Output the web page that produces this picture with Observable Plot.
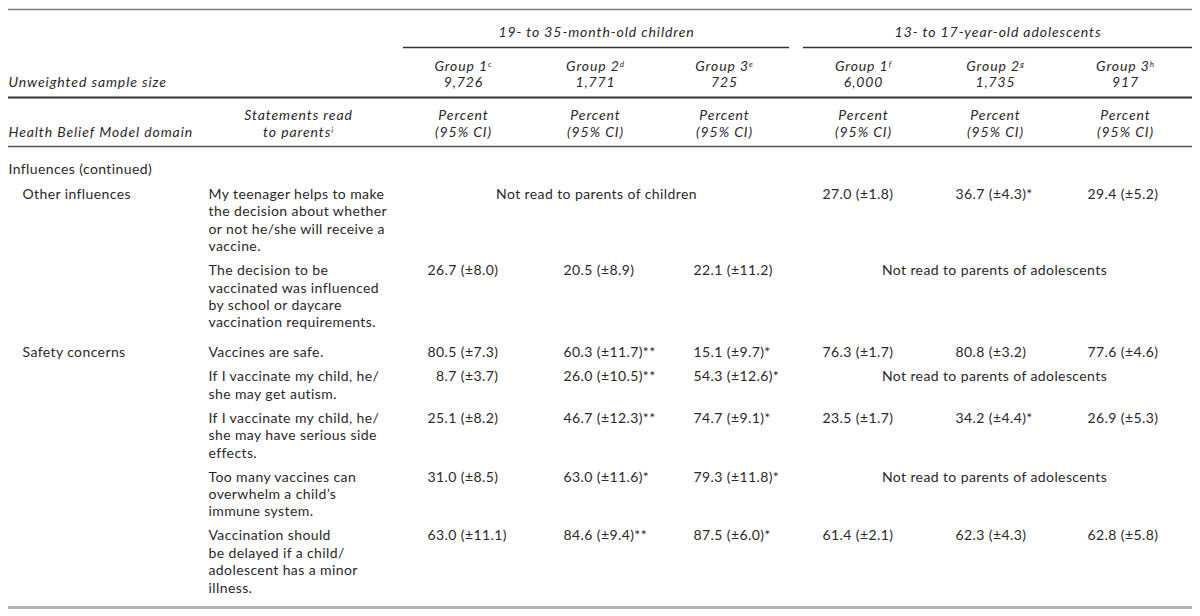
<!DOCTYPE html>
<html>
<head>
<meta charset="utf-8">
<script src="https://cdn.jsdelivr.net/npm/d3@7"></script>
<script src="https://cdn.jsdelivr.net/npm/@observablehq/plot@0.6"></script>
<style>
  html, body { margin: 0; padding: 0; background: #ffffff; }
  #chart svg { display: block; }
</style>
</head>
<body>
<div id="chart"></div>
<script>
// ---------- DATA ----------
const ageGroups = ["19- to 35-month-old children", "13- to 17-year-old adolescents"];
const groupNames = ["Group 1", "Group 2", "Group 3", "Group 1", "Group 2", "Group 3"];
const groupNotes = ["c", "d", "e", "f", "g", "h"];
const groupAge = [0, 0, 0, 1, 1, 1];
const sampleSizes = ["9,726", "1,771", "725", "6,000", "1,735", "917"];
const sampleLabel = "Unweighted sample size";
const domainHeader = "Health Belief Model domain";
const statementHeader = ["Statements read", "to parents^i"];
const valueHeader = ["Percent", "(95% CI)"];
const sectionTitle = "Influences (continued)";
const domainNames = ["Other influences", "Safety concerns"];
const rowDomain = [0, 0, 1, 1, 1, 1, 1];
const statements = [
  ["My teenager helps to make", "the decision about whether", "or not he/she will receive a", "vaccine."],
  ["The decision to be", "vaccinated was influenced", "by school or daycare", "vaccination requirements."],
  ["Vaccines are safe."],
  ["If I vaccinate my child, he/", "she may get autism."],
  ["If I vaccinate my child, he/", "she may have serious side", "effects."],
  ["Too many vaccines can", "overwhelm a child\u2019s", "immune system."],
  ["Vaccination should", "be delayed if a child/", "adolescent has a minor", "illness."]
];
const percents = [
  [null, null, null, 27.0, 36.7, 29.4],
  [26.7, 20.5, 22.1, null, null, null],
  [80.5, 60.3, 15.1, 76.3, 80.8, 77.6],
  [8.7, 26.0, 54.3, null, null, null],
  [25.1, 46.7, 74.7, 23.5, 34.2, 26.9],
  [31.0, 63.0, 79.3, null, null, null],
  [63.0, 84.6, 87.5, 61.4, 62.3, 62.8]
];
const ciHalfWidths = [
  [null, null, null, 1.8, 4.3, 5.2],
  [8.0, 8.9, 11.2, null, null, null],
  [7.3, 11.7, 9.7, 1.7, 3.2, 4.6],
  [3.7, 10.5, 12.6, null, null, null],
  [8.2, 12.3, 9.1, 1.7, 4.4, 5.3],
  [8.5, 11.6, 11.8, null, null, null],
  [11.1, 9.4, 6.0, 2.1, 4.3, 5.8]
];
const significance = [
  ["", "", "", "", "*", ""],
  ["", "", "", "", "", ""],
  ["", "**", "*", "", "", ""],
  ["", "**", "*", "", "", ""],
  ["", "**", "*", "", "*", ""],
  ["", "*", "*", "", "", ""],
  ["", "**", "*", "", "", ""]
];
const notReadTexts = ["Not read to parents of children", "Not read to parents of adolescents"];

// ---------- LAYOUT ----------
const W = 1200, H = 616;
const FONT = 14;
const FAMILY = "Lato, 'Open Sans', sans-serif";
const INK = "#2b2829";
const L = {
  left: 8, right: 1192,
  yTop: 9, yAge: 32, yAgeRule: 47, yGroup: 66, ySize: 82, yRule2: 97,
  yPct: 115, yCI: 132, yRule3: 146, ySection: 169,
  yBody: 194, lineH: 17.4, rowGap: 6.6, domainGap: 6, yBottom: 607,
  xDomain: 22, xStmt: 208, xStmtHead: 298,
  colCenter: [463, 595, 724, 863, 995, 1125],
  colValue: [427, 563, 693, 822, 955, 1087],
  ageSpan: [[403, 789], [803, 1192]],
  notReadX: [596, 994]
};

// ---------- BUILD CELLS ----------
const cells = [];
const add = (x, y, text, anchor = "start", italic = false) =>
  cells.push({x, y, text, anchor, italic});

ageGroups.forEach((g, i) => add((L.ageSpan[i][0] + L.ageSpan[i][1]) / 2, L.yAge, g, "middle", true));
groupNames.forEach((g, i) => {
  add(L.colCenter[i], L.yGroup, `${g}^${groupNotes[i]}`, "middle", true);
  add(L.colCenter[i], L.ySize, sampleSizes[i], "middle", true);
  add(L.colCenter[i], L.yPct, valueHeader[0], "middle", true);
  add(L.colCenter[i], L.yCI, valueHeader[1], "middle", true);
});
add(L.left, L.ySize, sampleLabel, "start", true);
add(L.left, L.yCI, domainHeader, "start", true);
add(L.xStmtHead, L.yPct, statementHeader[0], "middle", true);
add(L.xStmtHead, L.yCI, statementHeader[1], "middle", true);
add(L.left, L.ySection, sectionTitle, "start", false);

const fmt = (v, ci, sig) =>
  (v < 10 ? "\u2007" : "") + `${v.toFixed(1)} (\u00b1${ci.toFixed(1)})${sig}`;

let y = L.yBody;
statements.forEach((lines, r) => {
  if (r > 0) {
    y += L.rowGap;
    if (rowDomain[r] !== rowDomain[r - 1]) y += L.domainGap;
  }
  const rowY = y;
  if (r === 0 || rowDomain[r] !== rowDomain[r - 1]) add(L.xDomain, rowY, domainNames[rowDomain[r]]);
  lines.forEach((t, k) => add(L.xStmt, rowY + k * L.lineH, t));
  [0, 1].forEach(age => {
    const cols = groupAge.map((a, i) => a === age ? i : -1).filter(i => i >= 0);
    if (cols.every(i => percents[r][i] == null)) {
      add(L.notReadX[age], rowY, notReadTexts[age], "middle");
    } else {
      cols.forEach(i => add(L.colValue[i], rowY, fmt(percents[r][i], ciHalfWidths[r][i], significance[r][i])));
    }
  });
  y = rowY + lines.length * L.lineH;
});

const rules = [
  {y: L.yTop, x1: L.left, x2: L.right, color: "#7a7a7a", w: 1.6},
  {y: L.yAgeRule, x1: L.ageSpan[0][0], x2: L.ageSpan[0][1], color: "#333333", w: 1.7},
  {y: L.yAgeRule, x1: L.ageSpan[1][0], x2: L.ageSpan[1][1], color: "#333333", w: 1.7},
  {y: L.yRule2, x1: L.left, x2: L.right, color: "#333333", w: 1.8},
  {y: L.yRule3, x1: L.left, x2: L.right, color: "#555555", w: 1.3},
  {y: L.yBottom, x1: L.left, x2: L.right, color: "#b4b4b4", w: 3}
];

// ---------- PLOT ----------
const chart = Plot.plot({
  width: W, height: H,
  margin: 0,
  style: {fontFamily: FAMILY, background: "#ffffff", overflow: "visible"},
  x: {type: "linear", domain: [0, W], range: [0, W], axis: null},
  y: {type: "linear", domain: [0, H], range: [0, H], axis: null},
  color: {type: "identity"},
  marks: [
    Plot.ruleY(rules, {y: "y", x1: "x1", x2: "x2", stroke: "color", strokeWidth: "w"}),
    ...["start", "middle"].flatMap(anchor => [false, true].map(it =>
      Plot.text(cells.filter(d => d.anchor === anchor && d.italic === it), {
        x: "x", y: "y", text: "text",
        textAnchor: anchor,
        fill: INK, fontSize: FONT,
        fontStyle: it ? "italic" : "normal",
        lineAnchor: "middle"
      })
    ))
  ]
});

// letter spacing (wider reference typeface)
d3.select(chart).selectAll("text")
  .style("letter-spacing", function () {
    return d3.select(this.parentNode).attr("font-style") === "italic" ? "0.9px" : "0.4px";
  });

// superscripts (e.g. "Group 1^c")
d3.select(chart).selectAll("text").each(function () {
  const s = this.textContent;
  const idx = s.indexOf("^");
  if (idx < 0) return;
  const main = s.slice(0, idx), sup = s.slice(idx + 1);
  this.textContent = main;
  d3.select(this).append("tspan")
    .attr("dy", "-0.5em")
    .attr("font-size", "8px")
    .text(sup);
});

document.getElementById("chart").appendChild(chart);
</script>
</body>
</html>
